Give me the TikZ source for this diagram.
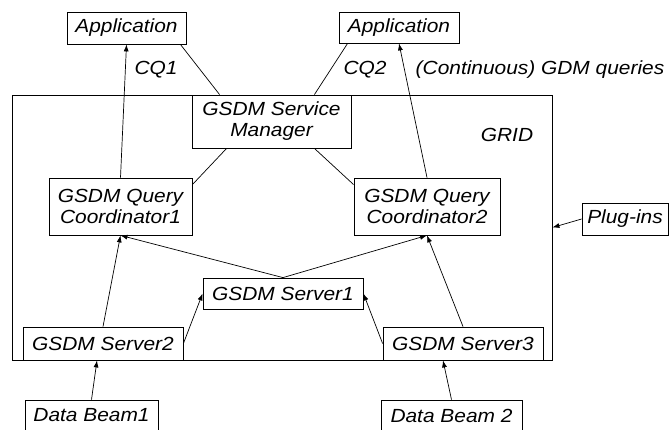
\documentclass[tikz,border=0pt]{standalone}
\usepackage{fontspec}
\setmainfont{Liberation Sans}[FakeStretch=1.1]
\usetikzlibrary{arrows.meta,calc}
\newcommand\gsdmfont{\fontsize{19}{21}\selectfont\itshape}

\begin{document}
\begin{tikzpicture}[
  x=1pt, y=-1pt,
  box/.style={
    draw,
    line width=0.8pt,
    inner sep=1pt,
    align=center,
    font=\gsdmfont
  },
  label/.style={inner sep=0pt, font=\gsdmfont},
  arrow/.style={-{Latex[length=7pt,width=5pt]},line width=0.7pt},
  link/.style={line width=0.7pt}
]
  \useasboundingbox (0,0) rectangle (669,430);
  % the grid frame
  \node[draw,line width=0.8pt,minimum width=540pt,minimum height=265pt] (grid) at (282,227.5) {};
  \node[label] (gridlabel) at (507,135) {GRID};

  % applications
  \node[box,minimum width=119pt,minimum height=32pt] (app1) at (126.5,28) {Application};
  \node[box,minimum width=120pt,minimum height=31pt] (app2) at (399,27.5) {Application};
  \node[label] (cq1) at (156,70) {CQ1};
  \node[label] (cq2) at (365,70) {CQ2};
  \node[label] (queries) at (540,70) {(Continuous) GDM queries};

  % services inside the grid
  \node[box,minimum width=159pt,minimum height=53pt] (manager) at (271.5,121.5) {GSDM Service\\Manager};
  \node[box,minimum width=143pt,minimum height=57pt] (coord1) at (120.5,206.5) {GSDM Query\\Coordinator1};
  \node[box,minimum width=146pt,minimum height=57pt] (coord2) at (427,206.5) {GSDM Query\\Coordinator2};
  \node[box,minimum width=160pt,minimum height=31pt] (server1) at (283,293.5) {GSDM Server1};
  \node[box,minimum width=160pt,minimum height=33pt] (server2) at (103,343.5) {GSDM Server2};
  \node[box,minimum width=160pt,minimum height=33pt] (server3) at (463,343.5) {GSDM Server3};

  % sources and plug-ins
  \node[box,minimum width=133pt,minimum height=31pt] (beam1) at (91.5,415.5) {Data Beam1};
  \node[box,minimum width=141pt,minimum height=31pt] (beam2) at (451.5,415.5) {Data Beam 2};
  \node[box,minimum width=86pt,minimum height=32pt] (plugins) at (625,219) {Plug-ins};

  % connectors
  \draw[arrow] (coord1.north) -- (app1.south);
  \draw[arrow] (coord2.north) -- (app2.south);
  \draw[link] ([xshift=28pt]manager.north west) -- ([xshift=-6pt]app1.south east);
  \draw[link] ([xshift=-37pt]manager.north east) -- ([xshift=9pt]app2.south west);
  \draw[link] ([xshift=35pt]manager.south west) -- ([yshift=-7pt]coord1.north east);
  \draw[link] ([xshift=-37pt]manager.south east) -- ([yshift=-7pt]coord2.north west);
  \draw[arrow] (server1.north) -- (coord1.south);
  \draw[arrow] (server1.north) -- (coord2.south);
  \draw[arrow] (server2.north) -- (coord1.south);
  \draw[arrow] (server3.north) -- (coord2.south);
  \draw[arrow] (server2.east) -- (server1.west);
  \draw[arrow] (server3.west) -- (server1.east);
  \draw[arrow] (beam1.north) -- ([xshift=-6pt]server2.south);
  \draw[arrow] (beam2.north) -- ([xshift=-20pt]server3.south);
  \draw[arrow] (plugins.west) -- (grid.east);
\end{tikzpicture}
\end{document}
